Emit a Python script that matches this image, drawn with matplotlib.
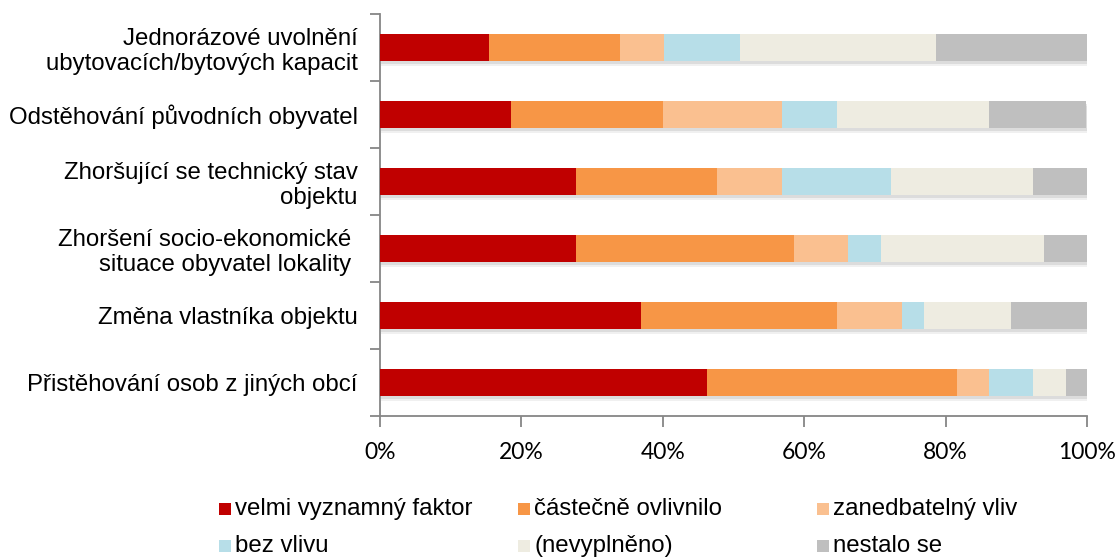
import matplotlib
matplotlib.use("Agg")
import matplotlib.pyplot as plt
import matplotlib.patheffects as pe
from matplotlib.patches import Rectangle
from matplotlib.ticker import FixedLocator, PercentFormatter
import numpy as np

# categories from top to bottom
CATEGORIES = [
    "Jednorázové uvolnění\nubytovacích/bytových kapacit",
    "Odstěhování původních obyvatel",
    "Zhoršující se technický stav\nobjektu",
    "Zhoršení socio-ekonomické \nsituace obyvatel lokality ",
    "Změna vlastníka objektu",
    "Přistěhování osob z jiných obcí",
]

SERIES = [
    "velmi vyznamný faktor",
    "částečně ovlivnilo",
    "zanedbatelný vliv",
    "bez vlivu",
    "(nevyplněno)",
    "nestalo se",
]

# shares in % per category (same order as CATEGORIES)
VELMI = [15.4, 18.5, 27.7, 27.7, 36.9, 46.2]
CASTECNE = [18.5, 21.5, 20.0, 30.8, 27.7, 35.4]
ZANEDBATELNY = [6.2, 16.9, 9.2, 7.7, 9.2, 4.6]
BEZ_VLIVU = [10.8, 7.7, 15.4, 4.6, 3.1, 6.2]
NEVYPLNENO = [27.7, 21.5, 20.0, 23.1, 12.3, 4.6]
NESTALO = [21.5, 13.8, 7.7, 6.2, 10.8, 3.1]

X_TICKS = [0, 20, 40, 60, 80, 100]

COLORS = ["#C00000", "#F79646", "#FAC090", "#B7DEE8", "#EEECE1", "#BFBFBF"]
AXIS_COLOR = "#868686"
TEXT_SIZE = 17.3
W, H = 1118, 557


def main():
    values = [VELMI, CASTECNE, ZANEDBATELNY, BEZ_VLIVU, NEVYPLNENO, NESTALO]

    fig = plt.figure(figsize=(W / 100, H / 100), dpi=100)
    fig.patch.set_facecolor("white")
    axis = fig.add_axes([380 / W, 1 - 416 / H, 707 / W, 402 / H])

    y_positions = np.arange(len(CATEGORIES))
    left = np.zeros(len(CATEGORIES))
    # soft drop shadow, two layers to fake a blur
    shadow = [
        pe.SimplePatchShadow(offset=(1, -3.5), shadow_rgbFace="#a0a0a0", alpha=0.15),
        pe.SimplePatchShadow(offset=(0.5, -2), shadow_rgbFace="#909090", alpha=0.2),
        pe.Normal(),
    ]

    for name, series, color in zip(SERIES, values, COLORS):
        bars = axis.barh(y_positions, series, height=0.4, left=left,
                         color=color, label=name, zorder=3)
        for bar in bars:
            bar.set_path_effects(shadow)
        left = left + np.array(series)

    axis.set_xlim(0, 100)
    axis.set_ylim(len(CATEGORIES) - 0.5, -0.5)

    for side in ["top", "right"]:
        axis.spines[side].set_visible(False)
    for side in ["left", "bottom"]:
        axis.spines[side].set_color(AXIS_COLOR)
        axis.spines[side].set_linewidth(1.3)

    axis.set_xticks(X_TICKS)
    axis.xaxis.set_major_formatter(PercentFormatter(decimals=0))
    axis.tick_params(axis="x", direction="out", length=8, width=1.3,
                     color=AXIS_COLOR, pad=11, labelsize=16.5, labelcolor="#000000")
    for label in axis.get_xticklabels():
        label.set_fontfamily("Lato")

    axis.set_yticks(y_positions)
    axis.set_yticklabels(CATEGORIES, fontsize=TEXT_SIZE, fontfamily="Liberation Sans",
                         linespacing=1.2)
    axis.tick_params(axis="y", which="major", length=0, pad=16)
    axis.yaxis.set_minor_locator(FixedLocator(np.arange(len(CATEGORIES) + 1) - 0.5))
    axis.tick_params(axis="y", which="minor", direction="out", length=7,
                     width=1.3, color=AXIS_COLOR)

    # legend, three columns of equal width as in the original
    for i, (name, color) in enumerate(zip(SERIES, COLORS)):
        col, row = i % 3, i // 3
        x0 = 219 + col * 299
        yc = 509 + row * 37
        fig.add_artist(Rectangle((x0 / W, 1 - (yc + 6) / H), 12 / W, 12 / H,
                                 transform=fig.transFigure, facecolor=color,
                                 edgecolor="none"))
        fig.text((x0 + 16) / W, 1 - yc / H, name, fontsize=TEXT_SIZE,
                 fontfamily="Liberation Sans", va="center", ha="left")

    fig.savefig("out.png", dpi=100, facecolor="white")
    plt.close(fig)


if __name__ == "__main__":
    main()
